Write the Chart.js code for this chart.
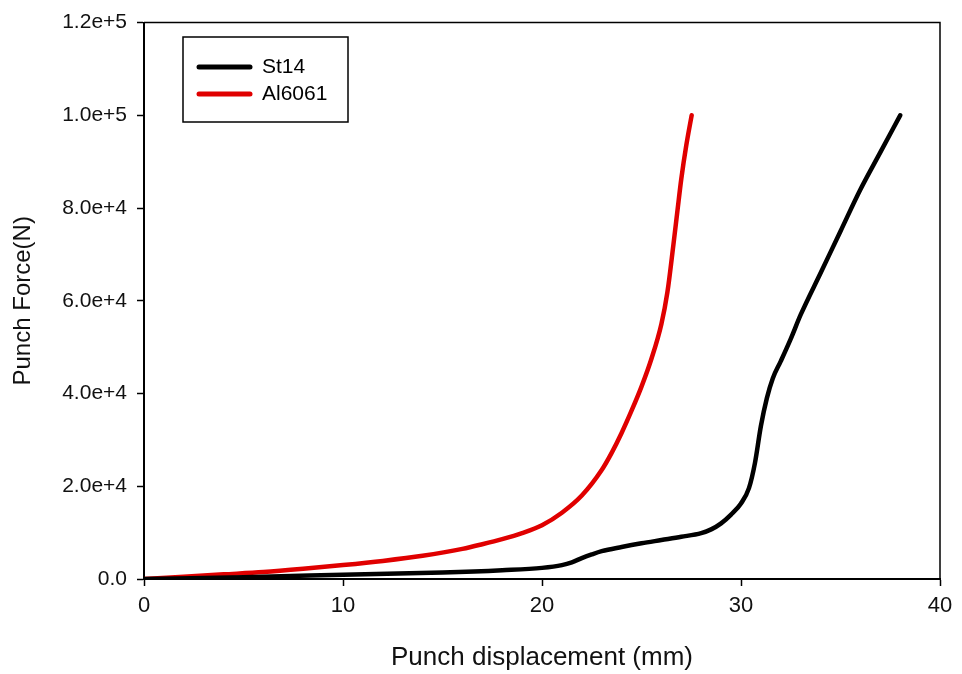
<!DOCTYPE html>
<html>
<head>
<meta charset="utf-8">
<script src="https://cdn.jsdelivr.net/npm/chart.js@4.4.1/dist/chart.umd.min.js"></script>
<style>
html,body{margin:0;padding:0;background:#fff;}
#wrap{width:962px;height:674px;position:relative;}
</style>
</head>
<body>
<div id="wrap"><canvas id="c" width="962" height="674"></canvas></div>
<script>
// Series names
const seriesNames = ["St14", "Al6061"];
const seriesColors = ["#000000", "#e00000"];

// St14: punch displacement (mm) and punch force (N)
const st14X = [0, 5, 10, 15, 18, 20, 21, 21.5, 22, 22.5, 23, 24, 25, 26, 27, 28, 28.5, 29, 29.5, 30, 30.4, 30.7, 31, 31.3, 31.6, 32, 32.5, 33, 34, 35, 36, 37, 38];
const st14Y = [0, 400, 900, 1400, 1900, 2400, 3000, 3600, 4500, 5300, 6000, 6900, 7700, 8400, 9100, 9900, 10700, 12000, 13900, 16300, 19600, 25000, 33000, 39000, 43300, 47000, 51800, 57000, 66000, 75000, 84000, 92000, 100000];

// Al6061
const alX = [0, 2, 4, 6, 8, 10, 12, 14, 16, 17, 18, 19, 20, 21, 22, 23, 23.5, 24, 24.5, 25, 25.5, 26, 26.3, 26.6, 26.8, 27.0, 27.25, 27.52];
const alY = [0, 500, 1000, 1500, 2200, 3000, 3900, 5000, 6500, 7500, 8600, 9900, 11600, 14300, 18000, 23500, 27200, 31500, 36300, 41500, 47500, 55000, 61800, 72000, 79200, 86300, 93500, 100000];

// Axis ticks
const xTicks = [0, 10, 20, 30, 40];
const yTicks = [0, 20000, 40000, 60000, 80000, 100000, 120000];

const toPts = (xs, ys) => xs.map((x, i) => ({x: x, y: ys[i]}));

const frameAndLegend = {
  id: 'frameAndLegend',
  afterDraw(chart) {
    const ctx = chart.ctx;
    const a = chart.chartArea;
    ctx.save();
    ctx.strokeStyle = '#000';
    ctx.lineWidth = 1.5;
    ctx.beginPath();
    ctx.moveTo(a.left, a.top);
    ctx.lineTo(a.right, a.top);
    ctx.lineTo(a.right, a.bottom);
    ctx.stroke();
    // legend box
    const bx = 183, by = 37, bw = 165, bh = 85;
    ctx.lineWidth = 1.5;
    ctx.strokeRect(bx, by, bw, bh);
    ctx.font = '21px "Liberation Sans", Arial, sans-serif';
    ctx.textBaseline = 'middle';
    chart.data.datasets.forEach((ds, i) => {
      const y = by + 30 + i * 27;
      ctx.strokeStyle = ds.borderColor;
      ctx.lineWidth = 5;
      ctx.lineCap = 'round';
      ctx.beginPath();
      ctx.moveTo(bx + 16, y);
      ctx.lineTo(bx + 67, y);
      ctx.stroke();
      ctx.fillStyle = '#000';
      ctx.fillText(ds.label, bx + 79, y);
    });
    ctx.restore();
  }
};

new Chart(document.getElementById('c'), {
  type: 'scatter',
  data: {
    datasets: [
      {label: seriesNames[0], data: toPts(st14X, st14Y), borderColor: seriesColors[0], backgroundColor: seriesColors[0], showLine: true, borderWidth: 4.5, pointRadius: 0, cubicInterpolationMode: 'monotone', borderCapStyle: 'round'},
      {label: seriesNames[1], data: toPts(alX, alY), borderColor: seriesColors[1], backgroundColor: seriesColors[1], showLine: true, borderWidth: 4.5, pointRadius: 0, cubicInterpolationMode: 'monotone', borderCapStyle: 'round'}
    ]
  },
  options: {
    responsive: false,
    animation: false,
    layout: {padding: {left: 0, top: 18, right: 22, bottom: 0}},
    plugins: {legend: {display: false}, tooltip: {enabled: false}},
    scales: {
      x: {
        type: 'linear', min: 0, max: 40,
        afterBuildTicks: s => { s.ticks = xTicks.map(v => ({value: v})); },
        afterFit: s => { s.height = 95; },
        grid: {drawOnChartArea: false, drawTicks: true, tickLength: 7, tickColor: '#000', tickWidth: 1.5},
        border: {display: true, color: '#000', width: 2},
        ticks: {color: '#111', font: {family: '"Liberation Sans", Arial, sans-serif', size: 22}, padding: 7, maxRotation: 0},
        title: {display: true, text: 'Punch displacement (mm)', color: '#111', font: {family: '"Liberation Sans", Arial, sans-serif', size: 26}, padding: {top: 0, bottom: 1}}
      },
      y: {
        type: 'linear', min: 0, max: 120000,
        afterBuildTicks: s => { s.ticks = yTicks.map(v => ({value: v})); },
        afterFit: s => { s.width = 144; },
        grid: {drawOnChartArea: false, drawTicks: true, tickLength: 7, tickColor: '#000', tickWidth: 1.5},
        border: {display: true, color: '#000', width: 2},
        ticks: {color: '#111', font: {family: '"Liberation Sans", Arial, sans-serif', size: 21}, padding: 10,
          callback: v => v === 0 ? '0.0' : Number(v).toExponential(1)},
        title: {display: true, text: 'Punch Force(N)', color: '#111', font: {family: '"Liberation Sans", Arial, sans-serif', size: 24}, padding: {top: 9, bottom: 0}}
      }
    }
  },
  plugins: [frameAndLegend]
});
</script>
</body>
</html>
